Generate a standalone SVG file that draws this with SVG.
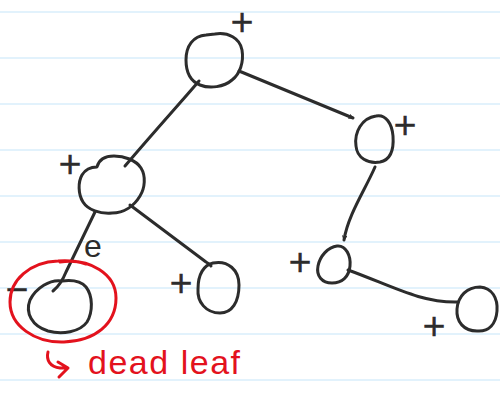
<svg xmlns="http://www.w3.org/2000/svg" width="500" height="399" viewBox="0 0 500 399">
  <defs>
    <style>
      .rule { stroke: #d8eefb; stroke-width: 1.5; }
      .ink { fill: none; stroke: #2c2c2c; stroke-width: 3; stroke-linecap: round; stroke-linejoin: round; }
      .red { fill: none; stroke: #e3121d; stroke-width: 3; stroke-linecap: round; stroke-linejoin: round; }
      .sign { font-family: "DejaVu Sans", sans-serif; font-size: 30px; fill: #2c2c2c; text-anchor: middle; stroke: #2c2c2c; stroke-width: 0.6; }
      .lbl { font-family: "Liberation Sans", sans-serif; font-size: 32px; fill: #2c2c2c; text-anchor: middle; }
      .note { font-family: "Liberation Sans", sans-serif; font-size: 34px; fill: #e3121d; }
    </style>
    <marker id="tip" viewBox="0 0 10 10" refX="9" refY="5" markerWidth="5" markerHeight="5" orient="auto" markerUnits="userSpaceOnUse">
      <path d="M1 1 L9 5 L1 9" fill="none" stroke="#2c2c2c" stroke-width="2" stroke-linecap="round"/>
    </marker>
  </defs>

  <rect width="500" height="399" fill="#ffffff"/>

  <!-- ruled paper -->
  <g id="paper">
    <line class="rule" x1="0" y1="12" x2="500" y2="12"/>
    <line class="rule" x1="0" y1="58" x2="500" y2="58"/>
    <line class="rule" x1="0" y1="104" x2="500" y2="104"/>
    <line class="rule" x1="0" y1="150" x2="500" y2="150"/>
    <line class="rule" x1="0" y1="196" x2="500" y2="196"/>
    <line class="rule" x1="0" y1="242" x2="500" y2="242"/>
    <line class="rule" x1="0" y1="288" x2="500" y2="288"/>
    <line class="rule" x1="0" y1="334" x2="500" y2="334"/>
    <line class="rule" x1="0" y1="380" x2="500" y2="380"/>
  </g>

  <!-- edges of the tree -->
  <g id="connectors">
    <path class="ink" d="M199 81 C182 101 160 125 125 166"/>
    <path class="ink" d="M239 71 L353 118" marker-end="url(#tip)"/>
    <path class="ink" d="M95 212 L66 272 C62 282 58 287 53 291"/>
    <path class="ink" d="M130 205 L206 262 C208 263 210 264 211 266"/>
    <path class="ink" d="M375 167 C365 190 348 215 344 240" marker-end="url(#tip)"/>
    <path class="ink" d="M348 270 C390 285 420 303 458 302"/>
  </g>

  <g id="root">
    <path class="ink" d="M215 34 C228 32 240 38 242 50 C244 62 240 74 232 80 C224 87 210 89 200 85 C190 81 186 72 186 60 C186 46 193 36 206 35 L215 34"/>
    <text class="sign" x="242" y="32">+</text>
  </g>

  <g id="right-child">
    <path class="ink" d="M376 116 C386 114 392 124 393 136 C394 150 390 160 380 162 C368 164 357 158 356 146 C354 132 362 118 376 116 Z"/>
    <text class="sign" x="405" y="135">+</text>
  </g>

  <g id="left-child">
    <path class="ink" d="M97 167 C99 159 106 156 114 156 C124 156 136 160 141 168 C146 176 145 188 140 196 C134 206 124 213 112 213 C100 214 88 210 83 202 C78 194 78 182 82 175 C85 170 91 167 97 167 Z"/>
    <text class="sign" x="70" y="174">+</text>
  </g>

  <g id="dead-leaf">
    <path class="ink" d="M62 281 C50 279 36 288 30 300 C25 313 32 326 48 331 C62 335 80 332 87 322 C93 312 93 296 86 287 C80 280 70 280 62 281 Z"/>
    <text class="sign" x="17" y="299">−</text>
    <text class="lbl" x="93" y="257">e</text>
    <path class="red" d="M60 262 C90 258 116 274 116 298 C116 324 95 341 64 342 C35 343 10 326 10 302 C10 280 30 262 58 261 C70 260 80 262 86 264"/>
  </g>

  <g id="middle-leaf">
    <path class="ink" d="M213 263 C228 260 239 270 239 285 C239 302 232 313 220 313 C206 313 197 302 198 289 C198 274 204 265 213 263 Z"/>
    <text class="sign" x="181" y="293">+</text>
  </g>

  <g id="mid-right">
    <path class="ink" d="M337 246 C346 245 351 256 350 266 C349 277 342 283 332 283 C322 283 316 276 318 266 C320 256 328 247 337 246 Z"/>
    <text class="sign" x="300" y="272">+</text>
  </g>

  <g id="far-right-leaf">
    <path class="ink" d="M480 287 C492 288 498 298 497 311 C496 324 489 332 477 331 C464 331 456 322 457 309 C458 296 467 287 480 287 Z"/>
    <text class="sign" x="434" y="336">+</text>
  </g>

  <g id="note">
    <path class="red" d="M48 352 C46 360 50 367 60 368 L68 368 M58 362 L68 368 L59 377"/>
    <text class="note" x="88" y="374" textLength="152" lengthAdjust="spacing">dead leaf</text>
  </g>
</svg>
